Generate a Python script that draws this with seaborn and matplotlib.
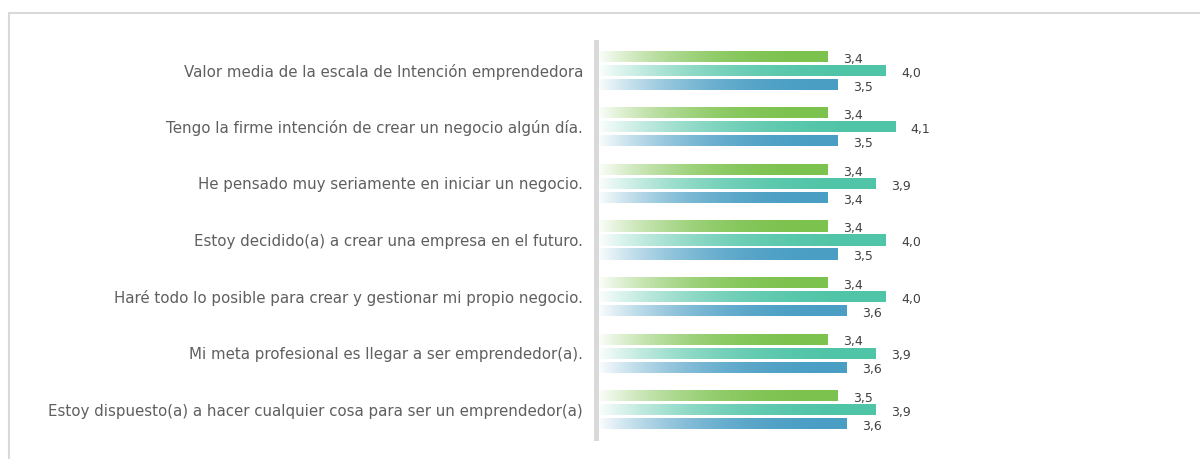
import numpy as np
import pandas as pd
import matplotlib
matplotlib.use("Agg")
import matplotlib.pyplot as plt
import matplotlib.colors as mcolors
from matplotlib.lines import Line2D
import seaborn as sns

# Data
items = [
    "Valor media de la escala de Intención emprendedora",
    "Tengo la firme intención de crear un negocio algún día.",
    "He pensado muy seriamente en iniciar un negocio.",
    "Estoy decidido(a) a crear una empresa en el futuro.",
    "Haré todo lo posible para crear y gestionar mi propio negocio.",
    "Mi meta profesional es llegar a ser emprendedor(a).",
    "Estoy dispuesto(a) a hacer cualquier cosa para ser un emprendedor(a)",
]
series_names = ["Grupo 1", "Grupo 2", "Grupo 3"]
values_g1 = [3.4, 3.4, 3.4, 3.4, 3.4, 3.4, 3.5]
values_g2 = [4.0, 4.1, 3.9, 4.0, 4.0, 3.9, 3.9]
values_g3 = [3.5, 3.5, 3.4, 3.5, 3.6, 3.6, 3.6]
series_colors = ["#7cc24e", "#4fc4a6", "#4a9ec4"]
scale_min = 1

df = pd.DataFrame({
    "item": items * 3,
    "serie": [s for s in series_names for _ in items],
    "valor": values_g1 + values_g2 + values_g3,
})

# Styling
sns.set_theme(style="white")
plt.rcParams["font.family"] = ["DejaVu Sans"]

fig = plt.figure(figsize=(12, 4.59), dpi=100)
ax = fig.add_axes([595.5 / 1200, 21 / 459, 386 / 1200, 396 / 459])

sns.barplot(
    data=df, y="item", x="valor", hue="serie",
    order=items, hue_order=series_names,
    palette=series_colors, saturation=1, width=0.74, gap=0.2,
    orient="h", legend=False, ax=ax,
)

ax.set_xlim(scale_min, 5)
ylim = ax.get_ylim()

# Bars start at the scale minimum; gradient fill white -> colour
n = 256
t = 1 - (1 - np.linspace(0, 1, n)) ** 2.5
for patch in list(ax.patches):
    w = patch.get_width()
    patch.set_x(scale_min)
    patch.set_width(w - scale_min)
    x0, y0 = patch.get_x(), patch.get_y()
    w, h = patch.get_width(), patch.get_height()
    rgb = np.array(mcolors.to_rgb(patch.get_facecolor()))
    grad = np.ones((1, n, 3)) * (1 - t)[None, :, None] + rgb[None, None, :] * t[None, :, None]
    im = ax.imshow(grad, extent=[x0, x0 + w, y0 + h, y0], aspect="auto",
                   interpolation="bilinear", zorder=2)
    im.set_clip_path(patch)
    patch.set_facecolor("none")
    patch.set_edgecolor("none")

# Value labels
for i, serie in enumerate(series_names):
    vals = df[df["serie"] == serie]["valor"].tolist()
    for j, v in enumerate(vals):
        ypos = j + (i - 1) * 0.74 / 3
        ax.annotate(f"{v:.1f}".replace(".", ","), xy=(v, ypos),
                    xytext=(11.5, -2), textcoords="offset points",
                    ha="left", va="center", fontsize=9, color="#404040")

ax.set_ylim(ylim)
ax.set_xlabel("")
ax.set_ylabel("")
ax.set_xticks([])
ax.tick_params(axis="y", length=0, pad=9, labelsize=10.8, labelcolor="#5f5f5f")
for side in ["top", "right", "bottom"]:
    ax.spines[side].set_visible(False)
ax.spines["left"].set_color("#d9d9d9")
ax.spines["left"].set_linewidth(3.6)
ax.spines["left"].set_zorder(3)

# Outer frame (top and left edges)
fig.add_artist(Line2D([9 / 1200, 9 / 1200], [0, 1 - 13 / 459], color="#d9d9d9", lw=1.5))
fig.add_artist(Line2D([9 / 1200, 1], [1 - 13 / 459, 1 - 13 / 459], color="#d9d9d9", lw=1.5))

fig.savefig("out.png", dpi=100)
